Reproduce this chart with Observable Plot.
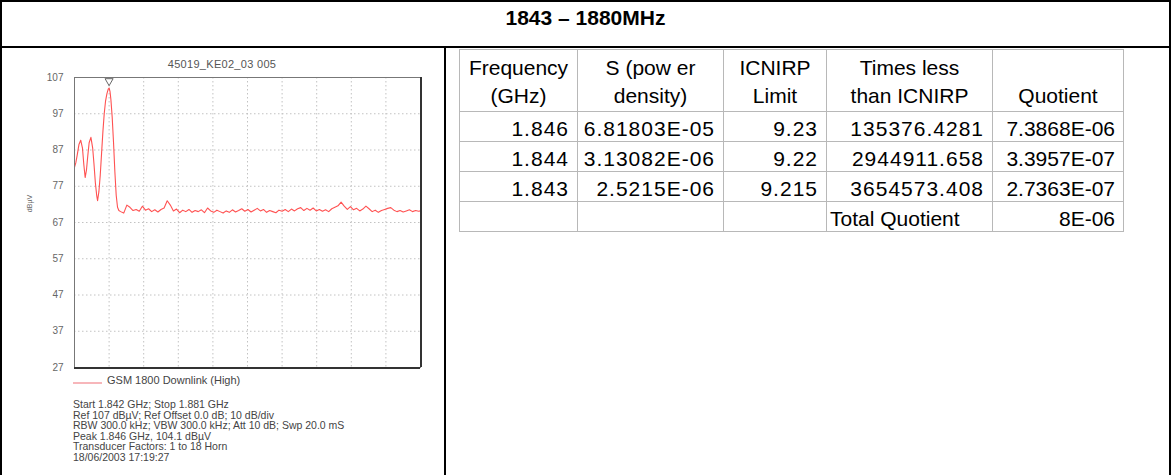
<!DOCTYPE html>
<html>
<head>
<meta charset="utf-8">
<script src="https://cdn.jsdelivr.net/npm/d3@7"></script>
<script src="https://cdn.jsdelivr.net/npm/@observablehq/plot@0.6"></script>
<style>
  html, body { margin: 0; padding: 0; background: #fff; }
  body { width: 1171px; height: 475px; position: relative; overflow: hidden; font-family: "Liberation Sans", Arial, sans-serif; }
  .abs { position: absolute; }
  #title { left: 0; top: 0; width: 1171px; height: 46px; text-align: center; font-weight: bold; font-size: 21px; line-height: 36px; color: #000; }
  .hl { background: #000; }
  #chartTitle { left: 122px; width: 200px; top: 58px; text-align: center; font-size: 11px; color: #555; letter-spacing: 0.3px; }
  #ylab { left: 14px; top: 200px; width: 30px; font-size: 7px; color: #666; transform: rotate(-90deg); text-align: center; }
  #legendLine { left: 73px; top: 382px; width: 29px; height: 1.5px; background: #f7b6ba; }
  #legendText { left: 107px; top: 374px; font-size: 11px; color: #444; }
  #info { left: 73px; top: 399px; font-size: 10.5px; line-height: 10.6px; color: #444; white-space: pre; }
  table { border-collapse: collapse; position: absolute; left: 459px; top: 49px; font-size: 21px; color: #000; }
  td { border: 1px solid #b8b8b8; padding: 0 8px 1px 3px; vertical-align: bottom; height: 29px; box-sizing: border-box; white-space: nowrap; line-height: 22px; }
  td.num { text-align: right; letter-spacing: 1px; }
  td.q { letter-spacing: 0; }
  tr.head td { height: 62px; text-align: center; line-height: 28px; padding: 0 2px 1px 2px; letter-spacing: 0; }
  tr.row td { height: 30px; }
</style>
</head>
<body>
<div id="title" class="abs"></div>
<div class="abs hl" style="left:0;top:0;width:1171px;height:2px"></div>
<div class="abs hl" style="left:0;top:46px;width:1171px;height:2px"></div>
<div class="abs hl" style="left:0;top:0;width:2px;height:475px"></div>
<div class="abs hl" style="left:1169px;top:0;width:2px;height:475px"></div>
<div class="abs hl" style="left:444px;top:46px;width:2px;height:429px"></div>
<div id="chartTitle" class="abs"></div>
<div id="ylab" class="abs"></div>
<div id="chart" class="abs" style="left:0;top:48px"></div>
<div id="legendLine" class="abs"></div>
<div id="legendText" class="abs"></div>
<div id="info" class="abs"></div>
<table id="tbl"></table>
<script>
// ---------- texts ----------
const pageTitle = "1843 \u2013 1880MHz";
const chartTitle = "45019_KE02_03 005";
const yLabel = "dB\u00b5V";
const seriesName = "GSM 1800 Downlink (High)";
const infoLines = [
  "Start 1.842 GHz; Stop 1.881 GHz",
  "Ref 107 dB\u00b5V; Ref Offset 0.0 dB; 10 dB/div",
  "RBW 300.0 kHz; VBW 300.0 kHz; Att 10 dB; Swp 20.0 mS",
  "Peak 1.846 GHz, 104.1 dB\u00b5V",
  "Transducer Factors: 1 to 18 Horn",
  "18/06/2003 17:19:27"
];

// ---------- axis ticks ----------
const yTicks = [27, 37, 47, 57, 67, 77, 87, 97, 107];
const xDivTicks = [1845.9, 1849.8, 1853.7, 1857.6, 1861.5, 1865.4, 1869.3, 1873.2, 1877.1];
const xDomain = [1842, 1881];
const yDomain = [27, 107];

// ---------- trace (MHz, dBuV) ----------
const traceFreq = [
  1842.0, 1842.15, 1842.3, 1842.5, 1842.7, 1842.9, 1843.05, 1843.2, 1843.35, 1843.5,
  1843.65, 1843.85, 1844.05, 1844.2, 1844.35, 1844.5, 1844.6, 1844.75, 1844.9, 1845.05,
  1845.2, 1845.35, 1845.5, 1845.65, 1845.8, 1845.9, 1846.0, 1846.1, 1846.25, 1846.4,
  1846.55, 1846.7, 1846.85, 1847.0,
  1847.2, 1847.55, 1847.9, 1848.25, 1848.6, 1848.95, 1849.3, 1849.65, 1850.0, 1850.35,
  1850.7, 1851.05, 1851.4, 1851.75, 1852.1, 1852.45, 1852.8, 1853.15, 1853.5, 1853.85,
  1854.2, 1854.55, 1854.9, 1855.25, 1855.6, 1855.95, 1856.3, 1856.65, 1857.0, 1857.35,
  1857.7, 1858.05, 1858.4, 1858.75, 1859.1, 1859.45, 1859.8, 1860.15, 1860.5, 1860.85,
  1861.2, 1861.55, 1861.9, 1862.25, 1862.6, 1862.95, 1863.3, 1863.65, 1864.0, 1864.35,
  1864.7, 1865.05, 1865.4, 1865.75, 1866.1, 1866.45, 1866.8, 1867.15, 1867.5, 1867.85,
  1868.2, 1868.55, 1868.9, 1869.25, 1869.6, 1869.95, 1870.3, 1870.65, 1871.0, 1871.35,
  1871.7, 1872.05, 1872.4, 1872.75, 1873.1, 1873.45, 1873.8, 1874.15, 1874.5, 1874.85,
  1875.2, 1875.55, 1875.9, 1876.25, 1876.6, 1876.95, 1877.3, 1877.65, 1878.0, 1878.35,
  1878.7, 1879.05, 1879.4, 1879.75, 1880.1, 1880.45, 1880.8, 1881.0
];
const traceLevel = [
  82.2, 83.5, 85.5, 88.5, 89.7, 87.5, 83.0, 79.4, 81.5, 85.5,
  89.0, 90.5, 87.5, 83.0, 78.0, 74.5, 73.0, 75.5, 80.0, 86.0,
  92.0, 97.0, 100.5, 102.5, 103.8, 104.1, 103.2, 101.0, 96.0, 89.0,
  81.0, 74.5, 71.2, 70.3,
  70.0, 69.6, 71.8, 71.2, 70.3, 70.6, 70.1, 71.5, 70.4, 70.8,
  70.0, 70.5, 69.9, 70.6, 71.0, 73.0, 71.8, 70.2, 70.7, 69.7,
  70.4, 70.0, 70.6, 69.8, 70.3, 70.0, 70.5, 69.7, 71.0, 70.2,
  69.8, 70.4, 70.0, 69.6, 70.2, 69.8, 70.5, 69.9, 70.3, 70.8,
  70.1, 70.6, 69.9, 70.4, 70.9, 70.2, 70.6, 69.8, 70.3, 70.0,
  69.7, 70.4, 70.1, 70.6, 70.0, 70.7, 70.2, 70.8, 71.1, 70.3,
  70.9, 70.4, 71.0, 70.2, 70.6, 70.1, 70.5, 70.0, 70.8, 71.2,
  71.6, 72.6, 71.5, 70.6, 71.4, 70.5, 70.9, 70.2, 70.7, 71.5,
  70.8, 70.0, 70.4, 69.8, 70.3, 70.6, 70.9, 71.1, 70.4, 70.0,
  70.3, 69.9, 70.2, 70.5, 70.0, 70.3, 70.1, 70.2
];
const peakFreq = 1845.9;
const peakLevel = 104.1;

// ---------- table ----------
const headFrequency = ["Frequency", "(GHz)"];
const headS = ["S (pow er", "density)"];
const headLimit = ["ICNIRP", "Limit"];
const headTimes = ["Times less", "than ICNIRP"];
const headQuotient = ["Quotient"];
const colFrequency = ["1.846", "1.844", "1.843"];
const colS = ["6.81803E-05", "3.13082E-06", "2.5215E-06"];
const colLimit = ["9.23", "9.22", "9.215"];
const colTimes = ["135376.4281", "2944911.658", "3654573.408"];
const colQuotient = ["7.3868E-06", "3.3957E-07", "2.7363E-07"];
const totalLabel = "Total Quotient";
const totalValue = "8E-06";

// ---------- texts into page ----------
document.getElementById("title").textContent = pageTitle;
document.getElementById("chartTitle").textContent = chartTitle;
document.getElementById("ylab").textContent = yLabel;
document.getElementById("legendText").textContent = seriesName;
document.getElementById("info").textContent = infoLines.join("\n");

// ---------- chart ----------
const trace = traceFreq.map((f, i) => ({f, db: traceLevel[i]}));
const chart = Plot.plot({
  width: 445,
  height: 325,
  marginLeft: 74,
  marginRight: 25,
  marginTop: 29,
  marginBottom: 6,
  style: {fontFamily: "'Liberation Sans', Arial, sans-serif", background: "transparent", overflow: "visible"},
  x: {domain: xDomain, axis: null},
  y: {domain: yDomain, axis: null},
  marks: [
    Plot.gridX(xDivTicks, {stroke: "#c2c2c2", strokeOpacity: 1, strokeDasharray: "1.5,2.5"}),
    Plot.gridY(yTicks.slice(1, -1), {stroke: "#c2c2c2", strokeOpacity: 1, strokeDasharray: "1.5,2.5"}),
    Plot.axisY(yTicks, {tickSize: 0, tickPadding: 11, fontSize: 10, fill: "#666", label: null}),
    Plot.line(trace, {x: "f", y: "db", stroke: "#ff3434", strokeWidth: 1.1, strokeOpacity: 0.85}),
    Plot.dot([{f: peakFreq, db: peakLevel}], {x: "f", y: "db", dy: -7, symbol: "triangle", rotate: 180, r: 3, stroke: "#666", strokeWidth: 1, fill: "white"}),
    Plot.frame({stroke: "#777", strokeWidth: 1}),
    Plot.ruleX([xDomain[1]], {stroke: "#333", strokeWidth: 2, dx: 0.5}),
    Plot.ruleY([yDomain[0]], {stroke: "#333", strokeWidth: 2, dy: 0.5})
  ]
});
document.getElementById("chart").appendChild(chart);

// ---------- table ----------
const tbl = document.getElementById("tbl");
const widths = [118, 146, 103, 166, 131];
function cell(tr, lines, cls) {
  const td = document.createElement("td");
  if (cls) td.className = cls;
  lines.forEach((t, i) => {
    if (i) td.appendChild(document.createElement("br"));
    td.appendChild(document.createTextNode(t));
  });
  tr.appendChild(td);
  return td;
}
const hr = document.createElement("tr"); hr.className = "head";
[headFrequency, headS, headLimit, headTimes, headQuotient].forEach((h, i) => {
  const td = cell(hr, h, null);
  td.style.width = widths[i] + "px";
});
tbl.appendChild(hr);
colFrequency.forEach((_, r) => {
  const tr = document.createElement("tr"); tr.className = "row";
  [colFrequency, colS, colLimit, colTimes].forEach(col => cell(tr, [col[r]], "num"));
  cell(tr, [colQuotient[r]], "num q");
  tbl.appendChild(tr);
});
const tr = document.createElement("tr"); tr.className = "row";
cell(tr, [""], "num"); cell(tr, [""], "num"); cell(tr, [""], "num");
cell(tr, [totalLabel], null); cell(tr, [totalValue], "num q");
tbl.appendChild(tr);
</script>
</body>
</html>
